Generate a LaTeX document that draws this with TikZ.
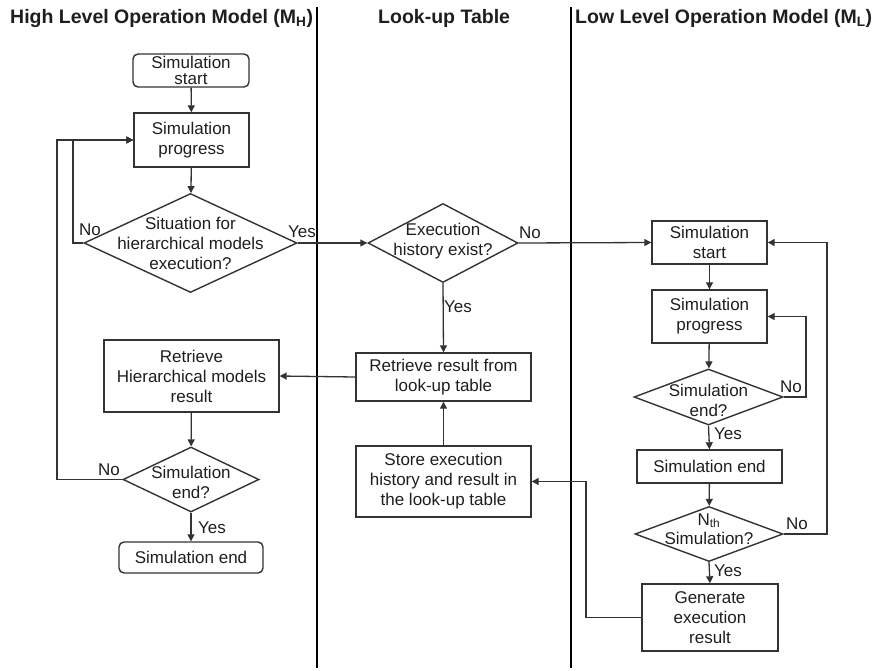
\documentclass[tikz,border=0pt]{standalone}
\usepackage{fontspec}
\setmainfont{Liberation Sans}
\usetikzlibrary{shapes.geometric,arrows.meta}
\definecolor{ink}{HTML}{1E1E1E}
\definecolor{edge}{HTML}{333333}
\begin{document}
\begin{tikzpicture}[x=1pt,y=-1pt,
  txt/.style={text=ink, font=\fontsize{17}{20}\selectfont, align=center, inner sep=0pt},
  box/.style={txt, draw=edge, line width=1.4pt},
  rbox/.style={box, rounded corners=5pt},
  dia/.style={draw=edge, line width=1.4pt, shape=diamond, inner sep=0pt},
  head/.style={text=ink, font=\bfseries\fontsize{19.5}{22}\selectfont, inner sep=0pt, anchor=base west},
  tag/.style={txt},
  flow/.style={draw=edge, line width=1.3pt, -{Triangle[length=7pt,width=7pt]}},
  lane/.style={draw=black, line width=2.4pt}
]
\useasboundingbox (0,0) rectangle (873,670);

% swim-lane separators
\coordinate (l1t) at (317,7);  \coordinate (l1b) at (317,668);
\coordinate (l2t) at (571,7);  \coordinate (l2b) at (571,668);
\draw[lane] (l1t) -- (l1b);
\draw[lane] (l2t) -- (l2b);

% lane headings
\node[head] (h1) at (10,23) {High Level Operation Model (M\textsubscript{H})};
\node[head] (h2) at (378,23) {Look-up Table};
\node[head] (h3) at (575,23) {Low Level Operation Model (M\textsubscript{L})};

% ---- high level model ----
\node[rbox, minimum width=116pt, minimum height=33pt, font=\fontsize{17}{16}\selectfont] (hs) at (191,70.5) {Simulation\\start};
\node[box, minimum width=115pt, minimum height=54pt] (hp) at (191.5,140) {Simulation\\progress};
\node[dia, minimum width=213pt, minimum height=99pt] (hd) at (190.5,243) {};
\node[txt] (hdt) at (190.5,243) {Situation for\\hierarchical models\\execution?};
\node[box, minimum width=175pt, minimum height=72pt] (hr) at (191.5,376) {Retrieve\\Hierarchical models\\result};
\node[dia, minimum width=136pt, minimum height=65pt] (he) at (191,479.5) {};
\node[txt] (het) at (191,482.5) {Simulation\\end?};
\node[rbox, minimum width=144pt, minimum height=31pt] (hf) at (191,557.5) {Simulation end};

% ---- look-up table ----
\node[dia, minimum width=150pt, minimum height=79pt] (ld) at (443,243) {};
\node[txt] (ldt) at (443,241.5) {Execution\\history exist?};
\node[box, minimum width=175pt, minimum height=48pt] (lr) at (443.5,377) {Retrieve result from\\look-up table};
\node[box, minimum width=175pt, minimum height=71pt] (ls) at (443.5,481.5) {Store execution\\history and result in\\the look-up table};

% ---- low level model ----
\node[box, minimum width=115pt, minimum height=43pt] (ss) at (709.5,242.5) {Simulation\\start};
\node[box, minimum width=115pt, minimum height=53pt] (sp) at (709.5,316.5) {Simulation\\progress};
\node[dia, minimum width=149pt, minimum height=56pt] (sd) at (708.5,397) {};
\node[txt] (sdt) at (708.5,400) {Simulation\\end?};
\node[box, minimum width=145pt, minimum height=33pt] (se) at (709.5,466.5) {Simulation end};
\node[dia, minimum width=148pt, minimum height=55pt] (sn) at (709,534) {};
\node[txt, font=\fontsize{17}{19}\selectfont] (snt) at (709,529) {N\textsubscript{th}\\Simulation?};
\node[box, minimum width=136pt, minimum height=67pt] (sg) at (710,617.5) {Generate\\execution\\result};

% bend points of the loop-back connectors
\coordinate (hdk) at (73,243);
\coordinate (hek) at (57,479.5);
\coordinate (sdk) at (806,397);
\coordinate (snk) at (827,534);
\coordinate (sgk) at (586,617.5);

% ---- connectors ----
\draw[flow] (hs) -- (hp);
\draw[flow] (hp) -- (hd);
\draw[flow] (hd.west) -- (hdk) |- (hp.west);
\draw[flow] (he.west) -- (hek) |- (hp.west);
\draw[flow] (hd.east) -- (ld.west);
\draw[flow] (ld.east) -- (ss.west);
\draw[flow] (ld.south) -- (lr.north);
\draw[flow] (lr.west) -- (hr.east);
\draw[flow] (hr) -- (he);
\draw[flow] (he.south) -- (hf.north);
\draw[flow] (ls.north) -- (lr.south);
\draw[flow] (ss) -- (sp);
\draw[flow] (sp) -- (sd);
\draw[flow] (sd.east) -- (sdk) |- (sp.east);
\draw[flow] (sd.south) -- (se.north);
\draw[flow] (se) -- (sn);
\draw[flow] (sn.east) -- (snk) |- (ss.east);
\draw[flow] (sn.south) -- (sg.north);
\draw[flow] (sg.west) -- (sgk) |- (ls.east);

% branch labels
\node[tag] (n1) at (90,230) {No};
\node[tag] (y1) at (302,232) {Yes};
\node[tag] (n2) at (530,233) {No};
\node[tag] (y2) at (458,307) {Yes};
\node[tag] (n3) at (109,470) {No};
\node[tag] (y3) at (212,528) {Yes};
\node[tag] (n4) at (791,387) {No};
\node[tag] (y4) at (728,434) {Yes};
\node[tag] (n5) at (797,524) {No};
\node[tag] (y5) at (728,571) {Yes};
\end{tikzpicture}
\end{document}
